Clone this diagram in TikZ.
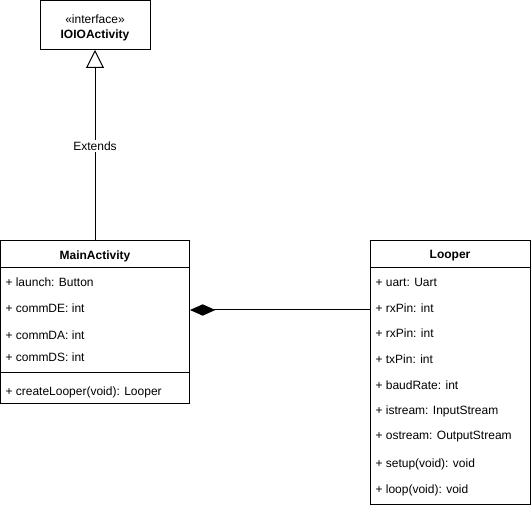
\documentclass[tikz,border=0pt]{standalone}
\usepackage{fontspec}
\setmainfont{Liberation Sans}
\usetikzlibrary{arrows.meta}
\usetikzlibrary{positioning}

\begin{document}
\begin{tikzpicture}[x=0.75pt, y=-0.75pt, line width=0.75pt,
    classbox/.style={draw, fill=white, anchor=north west, inner sep=0, outer sep=0},
    member/.style={anchor=west, inner sep=0, font=\fontsize{9}{11}\selectfont},
    classname/.style={inner sep=0, font=\bfseries\fontsize{9}{11}\selectfont}]
  \useasboundingbox (0,0) rectangle (531,505);

  % interface
  \node [classbox, minimum width=82.5pt, minimum height=36.75pt] (iface) at (40,1) {};
  \node [inner sep=0, font=\fontsize{9}{11}\selectfont] (stereo) at (95,19) {«interface»};
  \node [classname] (ifacename) at (95,35) {IOIOActivity};

  % MainActivity
  \node [classbox, minimum width=142pt, minimum height=121.5pt] (main) at (0.5,241) {};
  \node [classname] (mainname) at (95,256) {MainActivity};
  \draw (0.5,268) -- (190,268);
  \draw (0.5,372) -- (190,372);
  \foreach \y/\txt in {282/{+ launch: Button}, 308/{+ commDE: int}, 335/{+ commDA: int},
      357/{+ commDS: int}, 392/{+ createLooper(void): Looper}}
    \node [member] (main-\y) at (5,\y) {\txt};

  % Looper
  \node [classbox, minimum width=120pt, minimum height=197.25pt] (looper) at (370,241) {};
  \node [classname] (loopername) at (450,256) {Looper};
  \draw (370,268) -- (530,268);
  \foreach \y/\txt in {282/{+ uart: Uart}, 308/{+ rxPin: int}, 333/{+ rxPin: int},
      359/{+ txPin: int}, 385/{+ baudRate: int}, 411/{+ istream: InputStream},
      437/{+ ostream: OutputStream}, 464/{+ setup(void): void}, 490/{+ loop(void): void}}
    \node [member] (looper-\y) at (375,\y) {\txt};

  % relations
  \draw [-{Triangle[open, length=13.5pt, width=13.5pt]}] (main.north -| iface.south) -- (iface.south);
  \node [fill=white, inner sep=1pt, font=\fontsize{9}{11}\selectfont] (ext) at (95,146) {Extends};

  \coordinate (agg) at (190,310);
  \draw [{Diamond[length=19pt, width=8.5pt]}-] (agg) -- (agg -| looper.west);
\end{tikzpicture}
\end{document}
